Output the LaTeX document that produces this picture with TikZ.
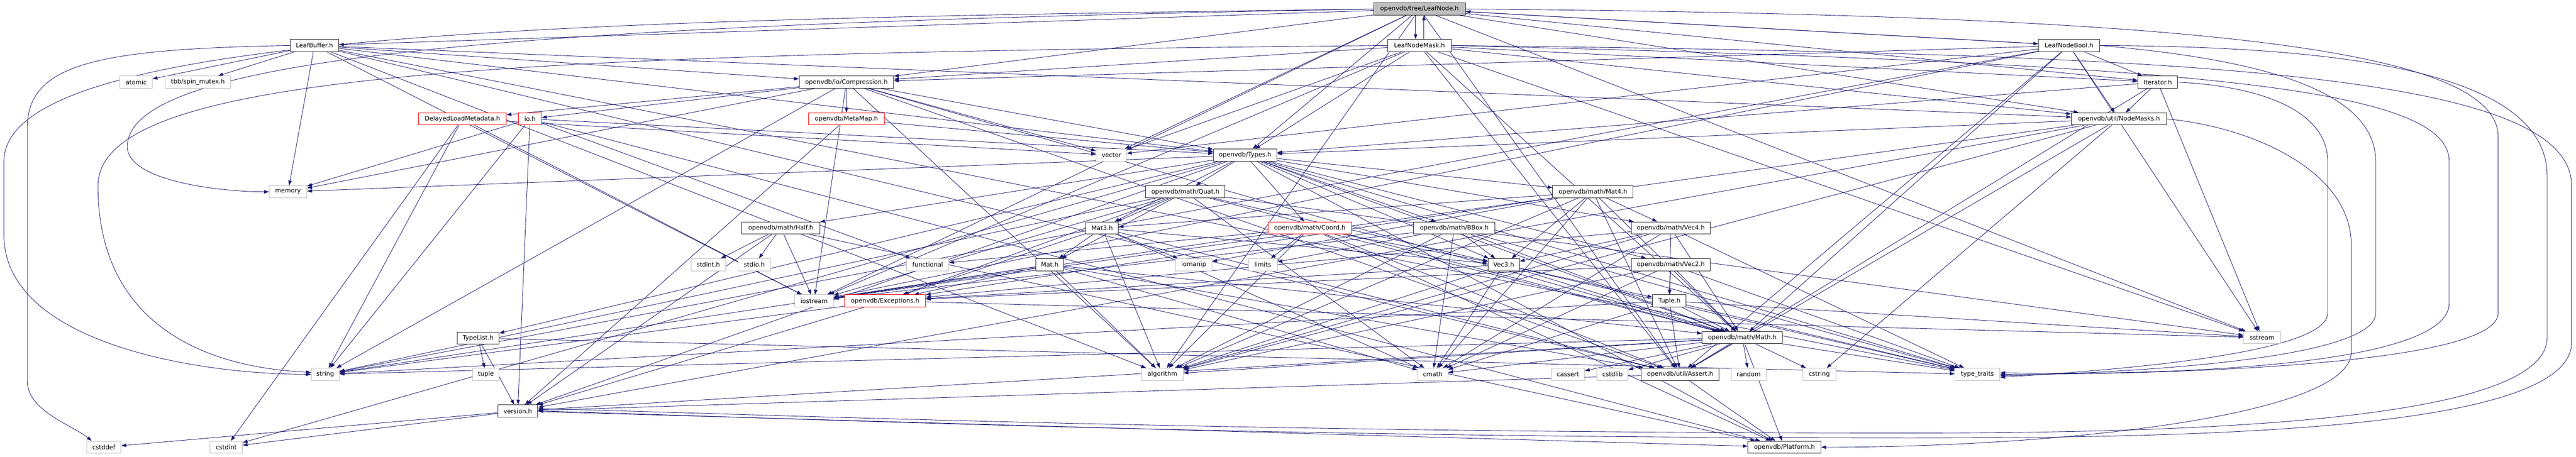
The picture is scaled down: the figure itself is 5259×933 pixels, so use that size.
\documentclass[tikz,border=0pt]{standalone}
\usepackage{fontspec}
\newfontfamily\dvfont{DejaVu Sans}
\usetikzlibrary{arrows.meta}
\definecolor{edgeblue}{HTML}{191970}
\definecolor{sysgrey}{HTML}{BFBFBF}
\pgfdeclarelayer{bg}
\pgfsetlayers{bg,main}
\tikzset{
  box/.style={draw, fill=white, minimum height=25pt, inner sep=1pt, line width=1pt,
              font=\dvfont\fontsize{12.6}{14}\selectfont},
  sysbox/.style={box, draw=sysgrey},
  redbox/.style={box, draw=red},
  blkbox/.style={box, draw=black!85},
  edge/.style={draw=edgeblue, line width=0.9pt, -{Triangle[length=10pt,width=7pt]}}
}
\begin{document}
\begin{tikzpicture}[x=1pt,y=-1pt]
\useasboundingbox (0,0) rectangle (5259,933);
% row 1
\node[blkbox, fill=sysgrey, minimum width=187pt] (leafnode) at (2898,18.5) {openvdb/tree/LeafNode.h};
% row 2
\node[blkbox, minimum width=99pt] (leafbuffer) at (642,93) {LeafBuffer.h};
\node[blkbox, minimum width=131pt] (leafnodemask) at (2898,93) {LeafNodeMask.h};
\node[blkbox, minimum width=125pt] (leafnodebool) at (4224,93) {LeafNodeBool.h};
% row 3
\node[sysbox, minimum width=66pt] (atomic) at (278,168) {atomic};
\node[sysbox, minimum width=134pt] (spinmutex) at (404,168) {tbb/spin\_mutex.h};
\node[blkbox, minimum width=193pt] (compression) at (1728,168) {openvdb/io/Compression.h};
\node[blkbox, minimum width=81pt] (iterator) at (4405,168) {Iterator.h};
% row 4
\node[redbox, minimum width=179pt] (delayed) at (944,243) {DelayedLoadMetadata.h};
\node[redbox, minimum width=47pt] (ioh) at (1082,243) {io.h};
\node[redbox, minimum width=154pt] (metamap) at (1728,243) {openvdb/MetaMap.h};
\node[blkbox, minimum width=194pt] (nodemasks) at (4326,243) {openvdb/util/NodeMasks.h};
% row 5
\node[sysbox, minimum width=62pt] (vector) at (2269,317) {vector};
\node[blkbox, minimum width=130pt] (types) at (2542,317) {openvdb/Types.h};
% row 6
\node[sysbox, minimum width=77pt] (memory) at (588,392) {memory};
\node[blkbox, minimum width=162pt] (quat) at (2420,392) {openvdb/math/Quat.h};
\node[blkbox, minimum width=164pt] (mat4) at (3252,392) {openvdb/math/Mat4.h};
% row 7
\node[blkbox, minimum width=159pt] (half) at (1594,466) {openvdb/math/Half.h};
\node[blkbox, minimum width=66pt] (mat3) at (2250,466) {Mat3.h};
\node[redbox, minimum width=170pt] (coord) at (2674,466) {openvdb/math/Coord.h};
\node[blkbox, minimum width=166pt] (bbox) at (2969,466) {openvdb/math/BBox.h};
\node[blkbox, minimum width=161pt] (vec4) at (3411,466) {openvdb/math/Vec4.h};
% row 8
\node[sysbox, minimum width=70pt] (stdinth) at (1446,541) {stdint.h};
\node[sysbox, minimum width=66pt] (stdioh) at (1540,541) {stdio.h};
\node[sysbox, minimum width=86pt] (functional) at (1894,541) {functional};
\node[blkbox, minimum width=57pt] (matn) at (2143,541) {Mat.h};
\node[sysbox, minimum width=74pt] (iomanip) at (2437,541) {iomanip};
\node[sysbox, minimum width=59pt] (limits) at (2578,541) {limits};
\node[blkbox, minimum width=64pt] (vec3) at (3070,541) {Vec3.h};
\node[blkbox, minimum width=161pt] (vec2) at (3411,541) {openvdb/math/Vec2.h};
% row 9
\node[sysbox, minimum width=79pt] (iostream) at (1662,615) {iostream};
\node[redbox, minimum width=165pt] (exceptions) at (1807,615) {openvdb/Exceptions.h};
\node[blkbox, minimum width=68pt] (tupleh) at (3408,615) {Tuple.h};
% row 10
\node[blkbox, minimum width=86pt] (typelist) at (976,691) {TypeList.h};
\node[blkbox, minimum width=164pt] (mathh) at (3557,690) {openvdb/math/Math.h};
\node[sysbox, minimum width=75pt] (sstream) at (4618,690) {sstream};
% row 11
\node[sysbox, minimum width=57pt] (string) at (664,765) {string};
\node[sysbox, minimum width=54pt] (tuple) at (992,765) {tuple};
\node[sysbox, minimum width=85pt] (algorithm) at (2373,765) {algorithm};
\node[sysbox, minimum width=62pt] (cmath) at (2925,765) {cmath};
\node[sysbox, minimum width=68pt] (cassert) at (3201,765) {cassert};
\node[sysbox, minimum width=63pt] (cstdlib) at (3292,765) {cstdlib};
\node[blkbox, minimum width=159pt] (assert) at (3430,765) {openvdb/util/Assert.h};
\node[sysbox, minimum width=72pt] (random) at (3570,765) {random};
\node[sysbox, minimum width=67pt] (cstring) at (3714,765) {cstring};
\node[sysbox, minimum width=92pt] (typetraits) at (4037,765) {type\_traits};
% row 12
\node[blkbox, minimum width=82pt] (version) at (1057,840) {version.h};
% row 13
\node[sysbox, minimum width=70pt] (cstddef) at (212,914) {cstddef};
\node[sysbox, minimum width=66pt] (cstdint) at (462,914) {cstdint};
\node[blkbox, minimum width=149pt] (platform) at (3643,914) {openvdb/Platform.h};

\begin{pgfonlayer}{bg}
\fill[white] (0,0) rectangle (5259,933);
\draw[edge] ([xshift=-8pt]leafnode.south) -- ([xshift=-8pt]leafnodemask.north);
\draw[edge] ([xshift=9pt]leafnodemask.north) -- ([xshift=9pt]leafnode.south);
% routed round the left side
\draw[edge] (leafnode.west) .. controls (1200,40) and (8,60) .. (8,330) -- (8,480)
  .. controls (8,700) and (400,765) .. (string.west);
\draw[edge] (leafbuffer.west) .. controls (200,100) and (56,130) .. (56,260) -- (56,780)
  .. controls (56,840) and (150,870) .. ([xshift=-25pt]cstddef.north);
\draw[edge] (leafnodemask.west) .. controls (1000,110) and (200,150) .. (200,380)
  .. controls (200,650) and (400,750) .. ([yshift=4pt]string.west);
\draw[edge] (leafnode.west) .. controls (1000,50) and (260,120) .. (260,300)
  .. controls (260,370) and (450,392) .. (memory.west);
% routed round the right side
\draw[edge] (leafnodemask.east) .. controls (4500,110) and (5250,150) .. (5250,380) -- (5250,700)
  .. controls (5250,880) and (4500,895) .. (3900,895) .. controls (2500,895) and (1500,850) .. (version.east);
\draw[edge] (leafnodebool.east) .. controls (4800,95) and (5200,150) .. (5200,360) -- (5200,690)
  .. controls (5200,860) and (4500,885) .. (3900,885) .. controls (2500,885) and (1500,845) .. ([yshift=5pt]version.east);
\draw[edge] (leafnode.east) .. controls (4500,30) and (5100,100) .. (5100,280) -- (5100,640)
  .. controls (5100,740) and (4500,765) .. (typetraits.east);
\draw[edge] (leafnodemask.east) .. controls (4500,130) and (5000,180) .. (5000,330) -- (5000,620)
  .. controls (5000,740) and (4500,768) .. ([yshift=3pt]typetraits.east);
\draw[edge] (leafnodebool.east) .. controls (4600,120) and (4850,180) .. (4850,330) -- (4850,640)
  .. controls (4850,730) and (4400,760) .. ([yshift=-3pt]typetraits.east);
\draw[edge] (iterator.east) .. controls (4600,175) and (4752,220) .. (4752,330) -- (4752,640)
  .. controls (4752,720) and (4350,755) .. ([yshift=-6pt]typetraits.east);
\draw[edge] (nodemasks.east) .. controls (4600,260) and (4800,350) .. (4800,500) -- (4800,720)
  .. controls (4800,850) and (4200,914) .. (platform.east);
\foreach \a/\b in {
 leafnode/types, leafnode/nodemasks, leafnode/assert, leafnode/compression, leafnode/iterator,
 leafnode/leafbuffer, leafnode/algorithm, leafnode/iostream, leafnode/sstream,
 leafnode/vector, leafnode/leafnodebool,
 leafnodemask/types, leafnodemask/compression, leafnodemask/mathh,
 leafnodemask/nodemasks, leafnodemask/assert, leafnodemask/iterator, leafnodemask/iostream,
 leafnodemask/sstream, leafnodemask/vector,
 leafnodebool/leafnode, leafnodebool/compression, leafnodebool/mathh,
 leafnodebool/nodemasks, leafnodebool/assert, leafnodebool/iterator, leafnodebool/iostream,
 leafnodebool/sstream, leafnodebool/string, leafnodebool/vector,
 leafbuffer/types, leafbuffer/compression, leafbuffer/nodemasks, leafbuffer/assert,
 leafbuffer/spinmutex, leafbuffer/algorithm, leafbuffer/atomic,
 leafbuffer/iostream, leafbuffer/memory, leafbuffer/typetraits,
 iterator/nodemasks, iterator/types, iterator/assert, iterator/sstream,
 nodemasks/types, nodemasks/assert, nodemasks/algorithm, nodemasks/cstring,
 nodemasks/iostream, nodemasks/version,
 compression/types, compression/metamap, compression/mathh, compression/assert, compression/ioh,
 compression/delayed, compression/algorithm, compression/iostream, compression/memory,
 compression/string, compression/vector,
 ioh/platform, ioh/types, ioh/version, ioh/functional, ioh/memory, ioh/string,
 delayed/cstdint, delayed/iostream, delayed/string, delayed/vector,
 metamap/types, metamap/version,
 types/version, types/platform, types/typelist, types/mathh, types/bbox, types/quat, types/vec2,
 types/vec3, types/vec4, types/mat3, types/mat4, types/coord, types/half, types/cstdint,
 types/memory, types/typetraits,
 quat/matn, quat/mat3, quat/mathh, quat/vec3, quat/exceptions, quat/cmath, quat/iostream,
 quat/sstream, quat/string,
 mat3/vec3, mat3/matn, mat3/iomanip, mat3/algorithm, mat3/cmath, mat3/exceptions, mat3/assert,
 matn/mathh, matn/exceptions, matn/algorithm, matn/cmath, matn/iostream, matn/string, matn/assert,
 coord/platform, coord/mathh, coord/vec3, coord/limits, coord/algorithm, coord/iostream,
 coord/functional, coord/assert,
 bbox/mathh, bbox/vec3, bbox/algorithm, bbox/cmath, bbox/iostream, bbox/limits, bbox/typetraits,
 vec3/exceptions, vec3/mathh, vec3/tupleh, vec3/algorithm, vec3/cmath, vec3/typetraits,
 vec4/exceptions, vec4/mathh, vec4/tupleh, vec4/vec3, vec4/algorithm, vec4/cmath, vec4/typetraits,
 vec2/exceptions, vec2/mathh, vec2/tupleh, vec2/algorithm, vec2/cmath, vec2/typetraits,
 mat4/exceptions, mat4/mathh, mat4/mat3, mat4/vec3, mat4/vec4, mat4/iomanip, mat4/algorithm,
 mat4/cmath, mat4/assert,
 tupleh/mathh, tupleh/assert, tupleh/cmath, tupleh/sstream, tupleh/string, tupleh/typetraits,
 mathh/platform, mathh/version, mathh/assert, mathh/algorithm, mathh/cassert, mathh/cmath,
 mathh/cstdlib, mathh/cstring, mathh/random, mathh/string, mathh/typetraits,
 assert/platform, assert/version,
 exceptions/version, exceptions/sstream, exceptions/string,
 typelist/version, typelist/tuple, typelist/typetraits,
 version/platform, version/cstddef, version/cstdint,
 half/stdinth, half/stdioh, half/iostream, half/platform, half/version}
 { \draw[edge] (\a) -- (\b); }
\end{pgfonlayer}
\end{tikzpicture}
\end{document}
